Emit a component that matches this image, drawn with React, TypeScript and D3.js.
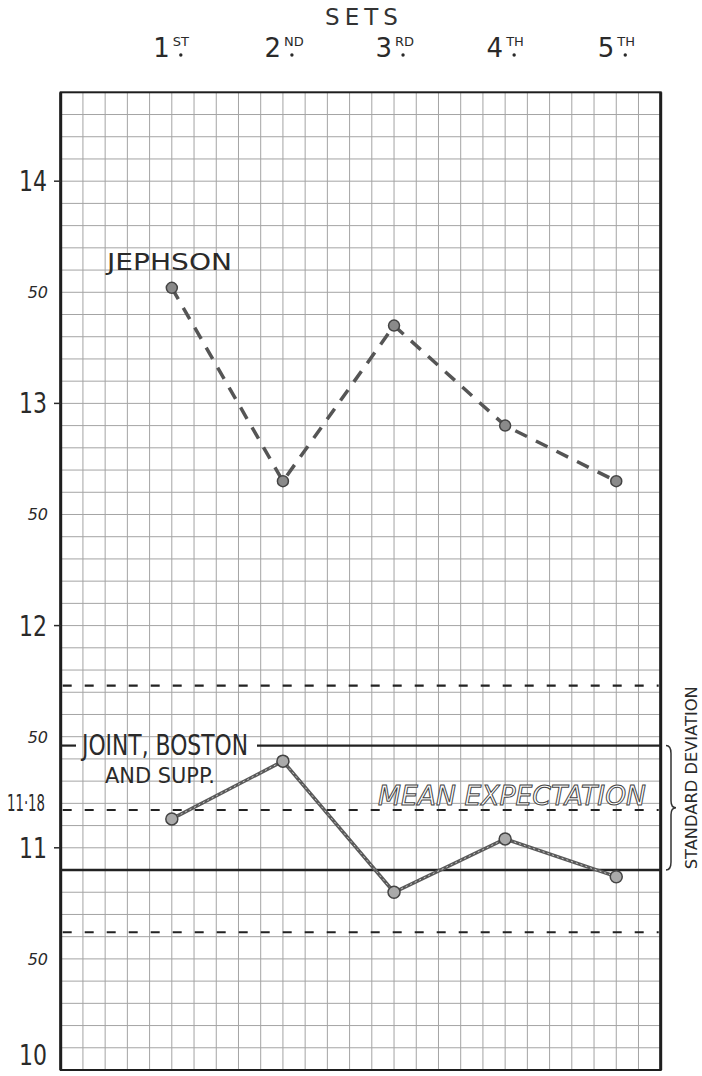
import * as d3 from "d3";

// Sets across the top
const setNumbers = ["1", "2", "3", "4", "5"];
const setSuffixes = ["ST", "ND", "RD", "TH", "TH"];

// Series values
const jephson = [13.52, 12.65, 13.35, 12.9, 12.65];
const jointBostonSupp = [11.13, 11.39, 10.8, 11.04, 10.87];

// Reference lines
const meanExpectation = 11.17;
const sdLines = [11.46, 10.9];
const twoSdLines = [11.73, 10.62];

// Y tick labels
const wholeTicks = [14, 13, 12, 11, 10];
const halfTicks = [13.5, 12.5, 11.5, 10.5];

const W = 702;
const H = 1076;
const COLS = 27;
const left = 60.7;
const right = 660.7;
const yMin = 10;
const yMax = 14.4;

const x = d3.scaleLinear().domain([0, COLS]).range([left, right]);
const y = d3.scaleLinear().domain([yMin, yMax]).range([1070, 92.3]);
const xSet = d3.scalePoint<string>().domain(setNumbers).range([x(5), x(25)]);

const line = d3
  .line<number>()
  .x((_, i) => xSet(setNumbers[i])!)
  .y((d) => y(d));

const font = "'DejaVu Sans', 'Liberation Sans', sans-serif";

export default function App() {
  const vLines = d3.range(1, COLS);
  const hLines = d3.range(1, 44).map((i) => yMin + i / 10);
  const brX = 666;
  const by1 = y(sdLines[0]);
  const by2 = y(sdLines[1]);
  const bym = (by1 + by2) / 2;
  const brace = `M${brX},${by1} Q${brX + 5},${by1} ${brX + 5},${by1 + 8} L${brX + 5},${bym - 7} Q${brX + 5},${bym} ${brX + 10},${bym} Q${brX + 5},${bym} ${brX + 5},${bym + 7} L${brX + 5},${by2 - 8} Q${brX + 5},${by2} ${brX},${by2}`;

  return (
    <div style={{ position: "absolute", left: 0, top: 0 }}>
      <svg width={W} height={H} style={{ display: "block", background: "#fff" }}>
        {/* grid */}
        <g stroke="#a4a4a4" strokeWidth={1}>
          {vLines.map((c) => (
            <line key={"v" + c} x1={x(c)} x2={x(c)} y1={y(yMax)} y2={y(yMin)} />
          ))}
          {hLines.map((v, i) => (
            <line key={"h" + i} x1={left} x2={right} y1={y(v)} y2={y(v)} />
          ))}
        </g>

        {/* frame */}
        <rect x={left} y={y(yMax)} width={right - left} height={y(yMin) - y(yMax)} fill="none" stroke="#1e1e1e" strokeWidth={2} />
        <line x1={left} x2={left} y1={y(yMax)} y2={y(yMin)} stroke="#1e1e1e" strokeWidth={3} />
        <line x1={right} x2={right} y1={y(yMax)} y2={y(yMin)} stroke="#1e1e1e" strokeWidth={3} />

        {/* title and set labels */}
        <text x={364} y={25} fontFamily={font} fontSize={23} letterSpacing={5} textAnchor="middle" fill="#333">
          SETS
        </text>
        {setNumbers.map((s, i) => {
          const cx = xSet(s)!;
          return (
            <g key={s} fill="#2a2a2a" fontFamily={font}>
              <text x={cx - 2} y={57} fontSize={26} textAnchor="end">
                {s}
              </text>
              <text x={cx + 1} y={46} fontSize={13}>
                {setSuffixes[i]}
              </text>
              <circle cx={cx + 9} cy={55} r={1.7} />
            </g>
          );
        })}

        {/* y labels */}
        {wholeTicks.map((v) => (
          <g key={v} fill="#2a2a2a" fontFamily={font}>
            <text x={47} y={v === 10 ? y(v) - 5 : y(v) + 10} fontSize={28} textAnchor="end" textLength={28} lengthAdjust="spacingAndGlyphs">
              {v}
            </text>
            {v !== 10 && <line x1={54} x2={61} y1={y(v)} y2={y(v)} stroke="#2a2a2a" strokeWidth={1.5} />}
          </g>
        ))}
        {halfTicks.map((v) => (
          <text key={v} x={48} y={y(v) + 6} fontFamily={font} fontSize={16} fontStyle="italic" textAnchor="end" fill="#2a2a2a">
            50
          </text>
        ))}
        <text x={45} y={y(meanExpectation) + 1} fontFamily={font} fontSize={23} textAnchor="end" textLength={38} lengthAdjust="spacingAndGlyphs" fill="#2a2a2a">
          11·18
        </text>

        {/* reference lines */}
        {twoSdLines.map((v) => (
          <line key={v} x1={left + 2} x2={right - 2} y1={y(v)} y2={y(v)} stroke="#222" strokeWidth={2.2} strokeDasharray="9 13" />
        ))}
        <line x1={left + 2} x2={right - 2} y1={y(meanExpectation)} y2={y(meanExpectation)} stroke="#222" strokeWidth={2.2} strokeDasharray="9 13" />
        <line x1={left} x2={76} y1={y(sdLines[0])} y2={y(sdLines[0])} stroke="#222" strokeWidth={2.2} />
        <line x1={257} x2={right} y1={y(sdLines[0])} y2={y(sdLines[0])} stroke="#222" strokeWidth={2.2} />
        <line x1={left} x2={right} y1={y(sdLines[1])} y2={y(sdLines[1])} stroke="#222" strokeWidth={2.6} />

        {/* series labels */}
        <text x={107} y={270} fontFamily={font} fontSize={23} textLength={125} lengthAdjust="spacingAndGlyphs" fill="#2a2a2a">
          JEPHSON
        </text>
        <text x={82} y={755} fontFamily={font} fontSize={28} textLength={166} lengthAdjust="spacingAndGlyphs" fill="#2a2a2a">
          JOINT, BOSTON
        </text>
        <text x={105} y={783} fontFamily={font} fontSize={22} textLength={110} lengthAdjust="spacingAndGlyphs" fill="#2a2a2a">
          AND SUPP.
        </text>
        <text x={378} y={805} fontFamily={font} fontSize={27} fontStyle="italic" textLength={268} lengthAdjust="spacingAndGlyphs" fill="#fff" stroke="#444" strokeWidth={1}>
          MEAN EXPECTATION
        </text>

        {/* standard deviation brace */}
        <path d={brace} fill="none" stroke="#333" strokeWidth={1.5} />
        <text transform={`translate(691,${bym - 30}) rotate(-90)`} fontFamily={font} fontSize={16} textAnchor="middle" dominantBaseline="central" textLength={183} lengthAdjust="spacingAndGlyphs" fill="#2a2a2a">
          STANDARD DEVIATION
        </text>

        {/* Jephson */}
        <path d={line(jephson)!} fill="none" stroke="#555" strokeWidth={3.5} strokeDasharray="13 10" />
        {jephson.map((v, i) => (
          <circle key={i} cx={xSet(setNumbers[i])} cy={y(v)} r={5.5} fill="#8a8a8a" stroke="#444" strokeWidth={1.5} />
        ))}

        {/* Joint, Boston and Supp. */}
        <path d={line(jointBostonSupp)!} fill="none" stroke="#5a5a5a" strokeWidth={3.5} />
        <path d={line(jointBostonSupp)!} fill="none" stroke="#c8c8c8" strokeWidth={1} strokeDasharray="2 3" />
        {jointBostonSupp.map((v, i) => (
          <circle key={i} cx={xSet(setNumbers[i])} cy={y(v)} r={6} fill="#aaa" stroke="#444" strokeWidth={1.5} />
        ))}
      </svg>
    </div>
  );
}
